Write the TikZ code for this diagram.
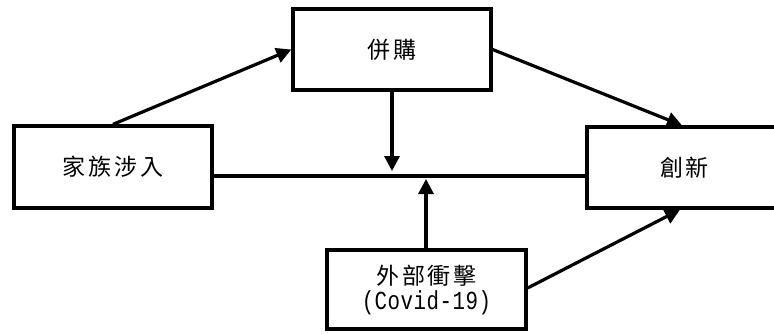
\documentclass[tikz,border=0pt]{standalone}
\usepackage{fontspec}
\usetikzlibrary{arrows.meta}
\newfontfamily\cjk[LetterSpace=12]{Noto Sans CJK TC}
\newfontfamily\monof[LetterSpace=2,FakeStretch=0.8]{Liberation Mono}
\tikzset{
  boxnode/.style={draw=black, line width=3.3pt, fill=white, rectangle, inner sep=0pt, align=center, font=\cjk\fontsize{23pt}{27pt}\selectfont},
  conn/.style={line width=3.2pt, -{Triangle[length=15pt,width=15pt]}},
  plain/.style={line width=3.2pt}
}
\begin{document}
\begin{tikzpicture}[x=1pt,y=-1pt]
\useasboundingbox (0,0) rectangle (774,333);
\fill[white] (0,0) rectangle (774,333);
\node[boxnode, minimum width=198pt, minimum height=81pt] (bg) at (392,49.5) {併購};
\node[boxnode, minimum width=198pt, minimum height=82pt] (fam) at (113,167) {家族涉入};
\node[boxnode, minimum width=198pt, minimum height=81pt] (inn) at (686,167.5) {\hspace*{-3pt}創新};
\node[boxnode, minimum width=199pt, minimum height=79pt] (ext) at (426.5,289.5) {外部衝擊\\[-2pt]{\monof\fontsize{26pt}{27pt}\selectfont (Covid-19)}};
\coordinate (d) at (392,171);
\coordinate (u) at (426,179);
\draw[plain] ([yshift=-9pt]fam.east) -- ([yshift=-9pt]fam.east -| inn.west);
\draw[conn] (bg.south) -- (d);
\draw[conn] (ext.north -| u) -- (u);
\draw[conn] (fam.north) -- (bg.west);
\draw[conn] (bg.east) -- ([xshift=-4pt]inn.north);
\draw[conn] ([yshift=1.5pt]ext.east) -- ([xshift=-6pt]inn.south);
\end{tikzpicture}
\end{document}
